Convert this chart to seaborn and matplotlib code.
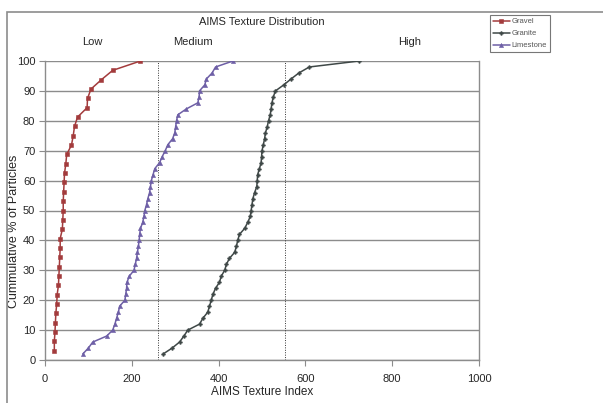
import matplotlib
matplotlib.use("Agg")
import matplotlib.pyplot as plt
import seaborn as sns
import pandas as pd
from matplotlib.patches import Rectangle

# ---- data ----
gravel_x = [21.5, 21.5, 23, 24, 25, 27, 28, 31, 32, 33, 34, 35, 35, 40, 41, 42,
            42, 43, 44, 45, 48, 50, 61, 65, 68, 75, 97, 98, 106, 130, 156, 220]
gravel_y = [3.125 * (i + 1) for i in range(32)]

granite_x = [272, 293, 310, 320, 329, 356, 364, 375, 379, 383, 387, 393, 402, 406,
             414, 418, 425, 437, 441, 444, 448, 460, 467, 473, 475, 477, 479, 483,
             488, 489, 490, 494, 498, 499, 500, 503, 506, 508, 512, 515, 519, 521,
             523, 526, 531, 550, 567, 585, 609, 724]
granite_y = [2 * (i + 1) for i in range(50)]

limestone_x = [87, 100, 110, 142, 156, 161, 165, 169, 172, 184, 186, 188, 189, 194,
               205, 208, 211, 213, 215, 217, 218, 220, 225, 228, 230, 234, 237, 241,
               243, 245, 249, 253, 264, 270, 277, 283, 294, 299, 301, 303, 306, 326,
               352, 355, 356, 368, 372, 385, 393, 433]
limestone_y = [2 * (i + 1) for i in range(50)]

series_names = ["Gravel", "Granite", "Limestone"]
class_labels = ["Low", "Medium", "High"]
class_label_x = [110, 340, 841]
class_bounds = [260, 552]

df = pd.concat([
    pd.DataFrame({"x": gravel_x, "y": gravel_y, "Material": "Gravel"}),
    pd.DataFrame({"x": granite_x, "y": granite_y, "Material": "Granite"}),
    pd.DataFrame({"x": limestone_x, "y": limestone_y, "Material": "Limestone"}),
], ignore_index=True)

sns.set_style("white")
plt.rcParams["font.family"] = ["Liberation Sans", "DejaVu Sans"]

W, H = 603, 403
fig = plt.figure(figsize=(W / 100, H / 100), dpi=100)
ax = fig.add_axes([45 / W, 1 - 360 / H, (479 - 45) / W, (360 - 61) / H])

palette = {"Gravel": "#A33B3C", "Granite": "#3F4847", "Limestone": "#6E5FA6"}
markers = {"Gravel": "s", "Granite": "P", "Limestone": "^"}
sizes = {"Gravel": 3.4, "Granite": 2.6, "Limestone": 3.0}

for name in series_names:
    sub = df[df["Material"] == name]
    sns.lineplot(data=sub, x="x", y="y", ax=ax, estimator=None, sort=False,
                 color=palette[name], marker=markers[name],
                 markersize=sizes[name], markeredgewidth=0.4,
                 markeredgecolor=palette[name], linewidth=1.1, label=name)

ax.set_xlim(0, 1000)
ax.set_ylim(0, 100)
ax.set_xticks(range(0, 1001, 200))
ax.set_yticks(range(0, 101, 10))
ax.yaxis.grid(True, color="#8c8c8c", linewidth=1.0)
ax.xaxis.grid(False)
ax.set_axisbelow(True)
for b in class_bounds:
    ax.axvline(b, color="#333333", linestyle=(0, (1, 1.5)), linewidth=0.7, zorder=1)

for s in ["left", "bottom", "right", "top"]:
    ax.spines[s].set_color("#8c8c8c")
    ax.spines[s].set_linewidth(1.0)
ax.spines["top"].set_visible(False)
ax.tick_params(axis="both", which="both", direction="out", length=4, width=0.8,
               color="#8c8c8c", labelsize=8, left=True, bottom=True)
ax.tick_params(axis="x", pad=6)
ax.tick_params(axis="y", pad=3)

ax.set_xlabel("AIMS Texture Index", fontsize=8.5)
ax.set_ylabel("Cummulative % of Particles", fontsize=9)
ax.xaxis.set_label_coords(0.5, -26 / 299)
ax.yaxis.set_label_coords(-25 / 434, 0.43)

for lab, xx in zip(class_labels, class_label_x):
    ax.text(xx, 106.3, lab, ha="center", va="center", fontsize=8, clip_on=False)

fig.text(262 / W, 1 - 22 / H, "AIMS Texture Distribution", ha="center",
         va="center", fontsize=8)

leg = ax.legend(loc="upper left", bbox_to_anchor=(490 / W, 1 - 15 / H),
                bbox_transform=fig.transFigure, fontsize=5.5, frameon=True,
                fancybox=False, edgecolor="#555555", borderpad=0.4,
                handlelength=2.2, handletextpad=0.2, labelspacing=0.6,
                borderaxespad=0)
leg.get_frame().set_linewidth(0.8)
for t in leg.get_texts():
    t.set_color("#555555")

# outer chart border
fig.patches.append(Rectangle((7 / W, -0.1), 1.2, 1 - 12 / H + 0.1,
                             transform=fig.transFigure, fill=False,
                             edgecolor="#8c8c8c", linewidth=1.2))

fig.savefig("out.png", dpi=100)
